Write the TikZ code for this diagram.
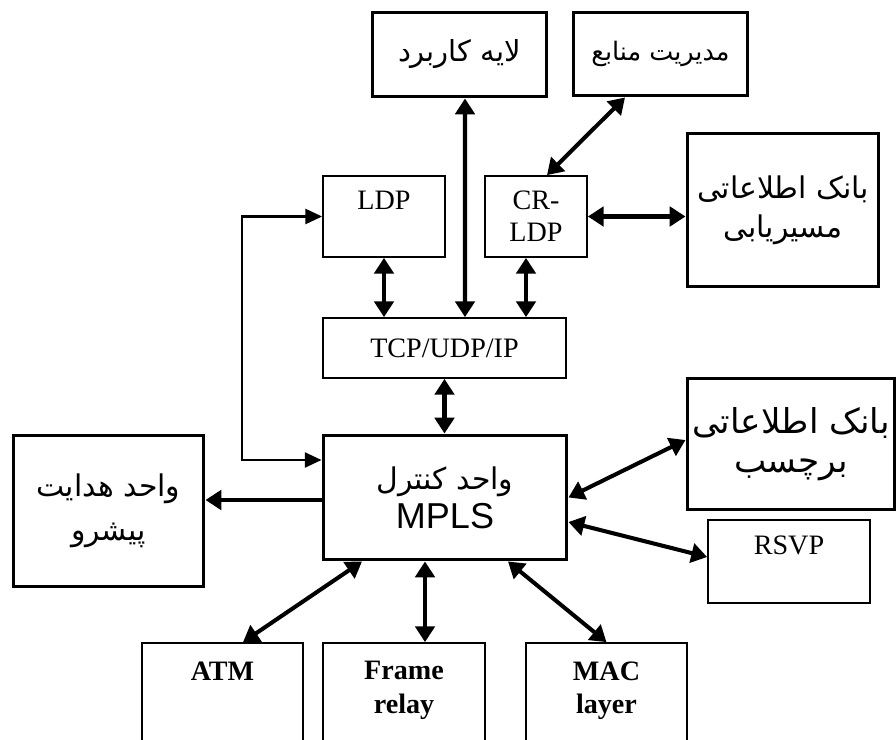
\documentclass[tikz,border=0pt]{standalone}
\usepackage{fontspec}
\setmainfont{Liberation Serif}
\newfontfamily\fafont[Script=Arabic]{DejaVu Sans}
\newfontfamily\arialfont{Liberation Sans}
\TeXXeTstate=1
\usetikzlibrary{arrows.meta,calc,positioning}
\tikzset{
  boxbase/.style={draw, align=center, inner sep=0pt, font=\fontsize{16}{18}\selectfont},
  thickbox/.style={boxbase, line width=1.7pt},
  thinbox/.style={boxbase, line width=1pt},
  fabox/.style={thickbox, font=\fafont\fontsize{#1}{22}\selectfont},
  fabox/.default=16,
  layerbox/.style={thinbox, minimum width=3.23cm, minimum height=3.14cm},
  layertext/.style={align=center, inner sep=0pt, font=\fontsize{16}{19}\selectfont\bfseries},
  dblarrow/.style={line width=2.3pt, {Triangle[length=9pt,width=11pt]}-{Triangle[length=9pt,width=11pt]}},
  onearrow/.style={line width=2.3pt, -{Triangle[length=9pt,width=11pt]}},
  looparrow/.style={line width=1.4pt, {Triangle[length=9.5pt,width=8.5pt]}-{Triangle[length=9.5pt,width=8.5pt]}}
}
\newcommand{\fa}[1]{\beginR #1\endR}
\begin{document}
\begin{tikzpicture}[x=0.02cm, y=-0.02cm]
  \useasboundingbox (0,0) rectangle (896,740);
  \clip (0,0) rectangle (896,740);

  % upper part
  \node[fabox=16.5, minimum width=3.5cm, minimum height=1.7cm] (app) at (459.5,54.5) {\fa{لایه کاربرد}};
  \node[fabox=14.5, minimum width=3.5cm, minimum height=1.68cm] (res) at (660.5,54) {\fa{مدیریت منابع}};
  \node[thinbox, minimum width=2.44cm, minimum height=1.62cm] (ldp) at (384,216.5) {LDP\\~};
  \node[thinbox, minimum width=2.04cm, minimum height=1.62cm] (crldp) at (536,216.5) {CR-\\LDP};
  \node[fabox=17, minimum width=3.84cm, minimum height=3.08cm] (rdb) at (783,210) {\fa{بانک اطلاعاتی}\\\fa{مسیریابی}};
  \node[thinbox, minimum width=4.86cm, minimum height=1.2cm] (tcp) at (444.5,348) {TCP/UDP/IP};

  % middle part
  \node[fabox=17, minimum width=4.88cm, minimum height=2.5cm] (mpls) at (445,497.5) {\fa{واحد کنترل}\\{\arialfont\fontsize{20.5}{22}\selectfont MPLS}};
  \node[fabox, font=\fafont\fontsize{17}{25}\selectfont, minimum width=3.82cm, minimum height=3.04cm] (fwd) at (108.5,511) {\fa{واحد هدایت}\\\fa{پیشرو}};
  \node[fabox=19.5, minimum width=4.16cm, minimum height=2.64cm] (ldb) at (791,444) {\fa{بانک اطلاعاتی}\\\fa{برچسب}};
  \node[thinbox, minimum width=3.24cm, minimum height=1.66cm] (rsvp) at (789,561.5) {RSVP\\~};

  % lower part
  \node[layerbox] (atm) at (222.5,721.5) {};
  \node[layerbox] (frame) at (404,721.5) {};
  \node[layerbox] (mac) at (606.5,721.5) {};
  \node[layertext, below=0.38cm of atm.north] (atmtext) {ATM};
  \node[layertext, below=0.38cm of frame.north] (frametext) {Frame\\relay};
  \node[layertext, below=0.38cm of mac.north] (mactext) {MAC\\layer};

  \coordinate (lft) at (242,460);

  \draw[dblarrow] ([xshift=0.41cm]tcp.north) -- ([xshift=0.11cm]app.south);
  \draw[dblarrow] ([xshift=0.22cm]crldp.north) -- ([xshift=-0.71cm]res.south);
  \draw[dblarrow] (ldp.south) -- (ldp.south |- tcp.north);
  \draw[dblarrow] ([xshift=-0.2cm]crldp.south) -- ([xshift=-0.2cm]crldp.south |- tcp.north);
  \draw[dblarrow] (crldp.east) -- (crldp.east -| rdb.west);
  \draw[looparrow] (ldp.west) -| (lft) -- (lft -| mpls.west);
  \draw[dblarrow] (tcp.south) -- (tcp.south |- mpls.north);
  \draw[onearrow] ([yshift=-0.05cm]mpls.west) -- ([yshift=-0.05cm]mpls.west -| fwd.east);
  \draw[dblarrow] (mpls.east) -- ([yshift=0.08cm]ldb.west);
  \draw[dblarrow] ([yshift=-0.49cm]mpls.east) -- ([yshift=0.09cm]rsvp.west);
  \draw[dblarrow] ([xshift=-1.66cm]mpls.south) -- ([xshift=0.41cm]atm.north);
  \draw[dblarrow] ([xshift=-0.4cm]mpls.south) -- ([xshift=-0.4cm]mpls.south |- frame.north);
  \draw[dblarrow] ([xshift=1.26cm]mpls.south) -- (mac.north);
\end{tikzpicture}
\end{document}
